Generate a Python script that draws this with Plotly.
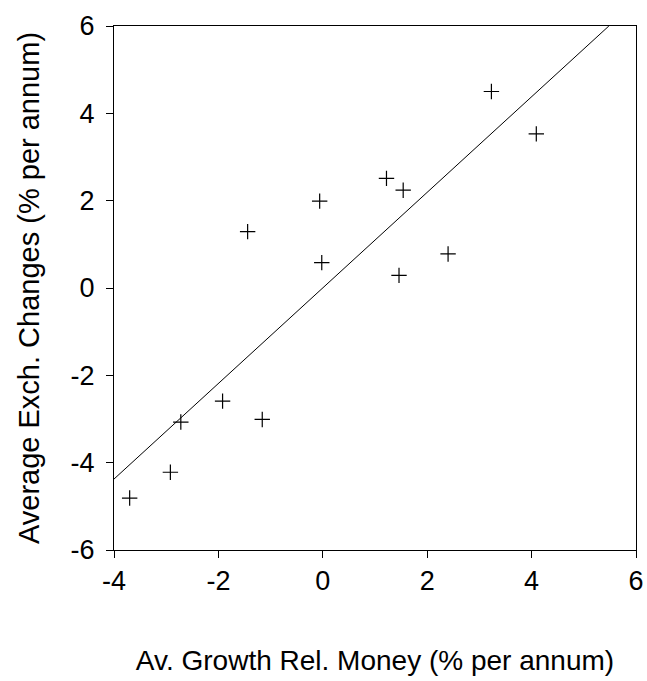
import plotly.graph_objects as go

money_growth = [-3.70, -2.92, -2.72, -1.92, -1.16, -1.44, -0.06, -0.02, 1.22, 1.54, 1.46, 2.40, 3.23, 4.09]
exch_changes = [-4.81, -4.22, -3.07, -2.59, -3.01, 1.29, 1.99, 0.58, 2.51, 2.24, 0.29, 0.78, 4.50, 3.53]

# Fitted line end points
fit_x = [-4.0, 5.48]
fit_y = [-4.375, 6.0]

x_ticks = [-4, -2, 0, 2, 4, 6]
y_ticks = [-6, -4, -2, 0, 2, 4, 6]

FONT = "Liberation Sans, Arial, sans-serif"

fig = go.Figure()
fig.add_trace(go.Scatter(
    x=fit_x, y=fit_y, mode="lines",
    line=dict(color="black", width=1),
    hoverinfo="skip", showlegend=False,
))
fig.add_trace(go.Scatter(
    x=money_growth, y=exch_changes, mode="markers",
    marker=dict(symbol="cross-thin", size=11, color="black",
                line=dict(width=1.2, color="black")),
    showlegend=False,
))

axis_common = dict(
    showgrid=False, zeroline=False,
    showline=True, linecolor="black", linewidth=1, mirror=True,
    ticks="outside", ticklen=7, tickwidth=1, tickcolor="black",
    tickfont=dict(family=FONT, size=27, color="black"),
)

fig.update_layout(
    width=647, height=681,
    margin=dict(l=114, r=11, t=26, b=131, autoexpand=False),
    plot_bgcolor="white", paper_bgcolor="white",
    xaxis=dict(range=[-4, 6], tickvals=x_ticks, ticktext=[str(v) for v in x_ticks],
               title=dict(text="Av. Growth Rel. Money (% per annum)",
                          font=dict(family=FONT, size=28, color="black"), standoff=54),
               ticklabelstandoff=0, automargin=False,
               **axis_common),
    yaxis=dict(range=[-6, 6], tickvals=y_ticks, ticktext=[str(v) for v in y_ticks],
               title=dict(text="Average Exch. Changes (% per annum)",
                          font=dict(family=FONT, size=29, color="black"), standoff=22),
               ticklabelstandoff=6, automargin=False,
               **axis_common),
)

fig.write_html("out.html")
